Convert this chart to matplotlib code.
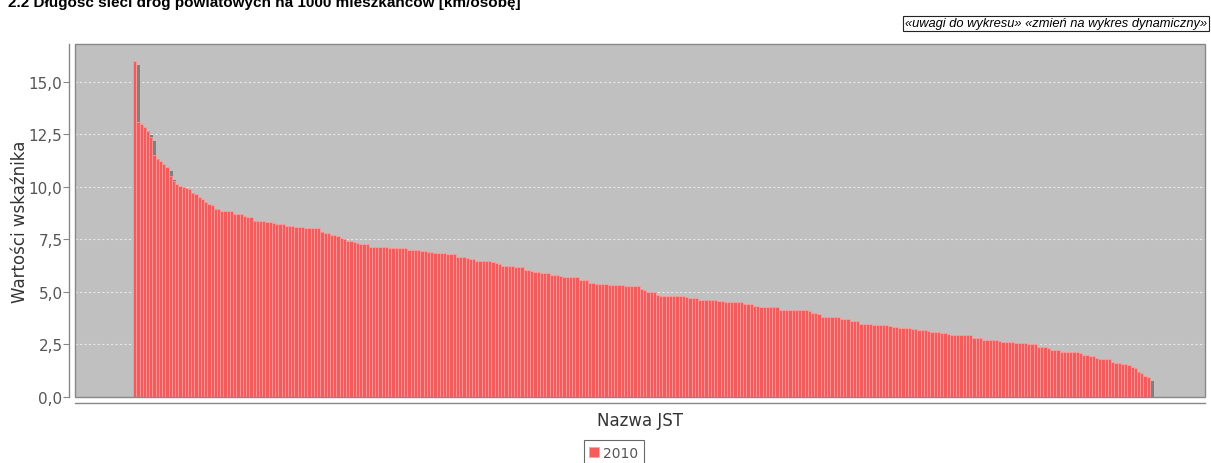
import matplotlib
matplotlib.use("Agg")
import matplotlib.pyplot as plt
from matplotlib.patches import Rectangle
from matplotlib.ticker import FuncFormatter

# Dane: wartości wskaźnika dla powiatów (posortowane malejąco), rok 2010
series_name = "2010"
values = [
    16.00, 13.07, 12.99, 12.86, 12.64, 12.39, 11.52, 11.33, 11.22, 11.09, 10.93, 10.54, 10.30,
    10.12, 10.05, 9.98, 9.93, 9.89, 9.69, 9.66, 9.54, 9.43, 9.27, 9.17, 9.15, 8.97, 8.95,
    8.87, 8.86, 8.85, 8.84, 8.73, 8.72, 8.71, 8.60, 8.59, 8.58,
    8.38, 8.37, 8.36, 8.36, 8.35, 8.34, 8.26, 8.25, 8.25, 8.24, 8.13, 8.12, 8.12, 8.11,
    8.07, 8.07, 8.06, 8.06, 8.05, 8.05, 8.04, 7.83, 7.82, 7.81, 7.70, 7.69, 7.68, 7.55, 7.53,
    7.42, 7.41, 7.40, 7.31, 7.30, 7.30, 7.29, 7.15, 7.14, 7.14,
    7.13, 7.12, 7.12, 7.10, 7.10, 7.09, 7.09, 7.08, 7.08,
    6.99, 6.99, 6.98, 6.98, 6.97, 6.97, 6.88, 6.88, 6.87, 6.87, 6.86, 6.86,
    6.82, 6.81, 6.80, 6.68, 6.67, 6.66, 6.60, 6.59, 6.58,
    6.48, 6.47, 6.46, 6.46, 6.45, 6.44, 6.36, 6.34,
    6.24, 6.23, 6.22, 6.22, 6.21, 6.20, 6.19, 6.04, 6.03, 6.02,
    5.94, 5.93, 5.92, 5.92, 5.91, 5.81, 5.80, 5.79,
    5.74, 5.73, 5.72, 5.72, 5.71, 5.70, 5.57, 5.56, 5.55,
    5.42, 5.41, 5.40, 5.40, 5.39, 5.38, 5.34, 5.33, 5.32, 5.32, 5.31, 5.30, 5.30,
    5.29, 5.28, 5.27, 5.13, 5.11, 5.02, 5.01, 5.00,
    4.84, 4.83, 4.83, 4.82, 4.82, 4.81, 4.81, 4.80, 4.80, 4.74, 4.73, 4.73, 4.72,
    4.62, 4.62, 4.61, 4.61, 4.60, 4.60, 4.59, 4.59, 4.54, 4.54, 4.53, 4.53, 4.52, 4.52,
    4.43, 4.42, 4.41, 4.34, 4.33, 4.28, 4.28, 4.27, 4.27, 4.26, 4.26,
    4.16, 4.15, 4.15, 4.14, 4.14, 4.13, 4.13, 4.12, 4.12, 4.11, 3.99, 3.98, 3.97,
    3.82, 3.82, 3.81, 3.81, 3.80, 3.79, 3.72, 3.71, 3.70, 3.63, 3.62, 3.61,
    3.48, 3.47, 3.46, 3.46, 3.45, 3.45,
    3.44, 3.44, 3.43, 3.36, 3.35, 3.34, 3.28, 3.28, 3.27, 3.27, 3.26, 3.26,
    3.20, 3.19, 3.18, 3.12, 3.11, 3.11, 3.10, 3.04, 3.03, 3.02,
    2.96, 2.96, 2.95, 2.95, 2.94, 2.94, 2.93, 2.81, 2.80, 2.79,
    2.71, 2.70, 2.70, 2.69, 2.69, 2.65, 2.64, 2.64, 2.63, 2.60, 2.59, 2.59, 2.58, 2.58,
    2.52, 2.51, 2.50, 2.38, 2.37, 2.36, 2.35, 2.25, 2.24, 2.23,
    2.14, 2.14, 2.13, 2.13, 2.12, 2.12, 2.11, 1.99, 1.98, 1.97, 1.96,
    1.85, 1.83, 1.82, 1.81, 1.79, 1.66, 1.63, 1.60, 1.58, 1.55, 1.52,
    1.42, 1.36, 1.20, 1.12, 1.02, 0.96,
]
y_ticks = [0.0, 2.5, 5.0, 7.5, 10.0, 12.5, 15.0]

title = "2.2 Długość sieci dróg powiatowych na 1000 mieszkańców [km/osobę]"
note = "«uwagi do wykresu» «zmień na wykres dynamiczny»"
x_label = "Nazwa JST"
y_label = "Wartości wskaźnika"

bar_color = "#F25C5C"
shadow_color = "#808080"
bg_color = "#C0C0C0"
text_gray = "#555555"

W, H = 1211, 464
fig = plt.figure(figsize=(W / 100, H / 100), dpi=100)
fig.patch.set_facecolor("white")

# obszar wykresu w pikselach: x 75..1205, y 45..398
ax = fig.add_axes([75 / W, 1 - 398 / H, 1130 / W, 353 / H])
ax.set_facecolor(bg_color)

n = len(values)
x = list(range(n))

# cień słupków (przesunięty w prawo i w dół, jak w JFreeChart)
px_per_bar = 1015 / n
px_per_unit = 353 / 16.8
dx = 4 / px_per_bar
dy = 4 / px_per_unit
ax.bar([i + dx for i in x], [max(v - dy, 0) for v in values], width=1.0,
       color=shadow_color, linewidth=0, zorder=2)
ax.bar(x, values, width=1.0, color=bar_color, edgecolor="#FFA0A0",
       linewidth=0.5, zorder=3, label=series_name)

ax.set_xlim(-0.5 - 58 / px_per_bar, n - 0.5 + 55 / px_per_bar)
ax.set_ylim(0, 16.8)

ax.set_yticks(y_ticks)
ax.yaxis.set_major_formatter(FuncFormatter(lambda v, p: f"{v:.1f}".replace(".", ",")))
ax.set_xticks([])
ax.grid(axis="y", color="#E8E8E8", linestyle=(0, (2, 2)), linewidth=0.8, zorder=1)
ax.set_axisbelow(True)

# osie odsunięte od obszaru wykresu
for s in ["top", "right"]:
    ax.spines[s].set_visible(False)
for s in ["left", "bottom"]:
    ax.spines[s].set_position(("outward", 4))
    ax.spines[s].set_color("#888888")
    ax.spines[s].set_linewidth(1.0)
ax.add_patch(Rectangle((0, 0), 1, 1, transform=ax.transAxes, fill=False,
                       edgecolor="#888888", linewidth=1.0, zorder=5, clip_on=False))

ax.tick_params(axis="y", length=4, width=0.8, color="#888888", labelcolor=text_gray,
               labelsize=11, pad=1)

ax.set_ylabel(y_label, fontsize=12, color="#333333", labelpad=0)
ax.set_xlabel(x_label, fontsize=12, color="#333333", labelpad=6)

# tytuł (ucięty u góry jak w oryginale)
fig.text(8 / W, 1 - 7.5 / H, title, fontsize=11, fontweight="bold",
         family="Liberation Sans", va="baseline", ha="left", color="black")

# ramka z odnośnikami
fig.text(1207 / W, 1 - 24.5 / H, note, fontsize=9.3, style="italic", ha="right",
         va="center", color="black", family="Liberation Sans",
         bbox=dict(boxstyle="square,pad=0.12", facecolor="white",
                   edgecolor="#222222", linewidth=0.8))

leg = fig.legend(loc="center", bbox_to_anchor=(614 / W, 1 - 454 / H), fontsize=10,
                 frameon=True, fancybox=False, handlelength=0.7, handleheight=0.7,
                 handletextpad=0.3, borderpad=0.4, labelcolor=text_gray)
leg.get_frame().set_edgecolor("#444444")
leg.get_frame().set_linewidth(0.8)

fig.savefig("out.png", dpi=100)
